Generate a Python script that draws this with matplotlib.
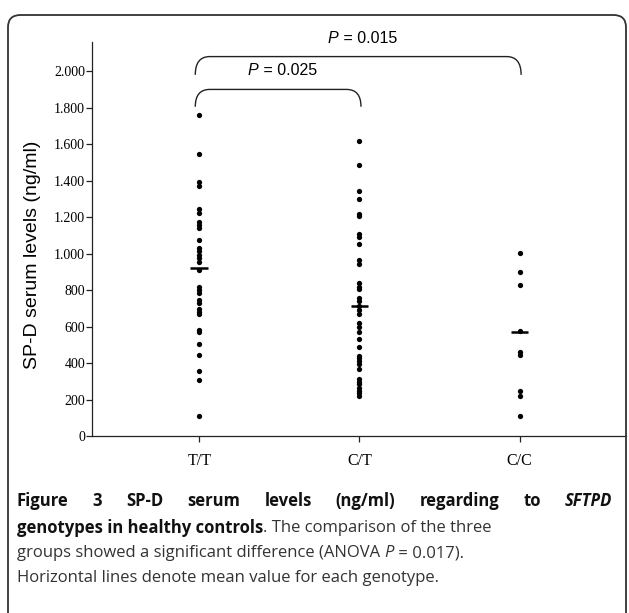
import matplotlib
matplotlib.use("Agg")
import matplotlib.pyplot as plt
from matplotlib.patches import FancyBboxPatch
from matplotlib.path import Path
from matplotlib.patches import PathPatch

# genotype groups and SP-D serum levels (ng/ml)
genotypes = ["T/T", "C/T", "C/C"]
tt = [1760, 1545, 1395, 1370, 1247, 1225, 1172, 1158, 1140, 1075, 1030, 1013,
      993, 975, 955, 908, 817, 800, 783, 743, 730, 697, 680, 668, 583, 568,
      505, 443, 358, 308, 110]
ct = [1620, 1484, 1344, 1299, 1217, 1204, 1105, 1089, 1053, 966, 944, 837,
      818, 805, 755, 738, 715, 689, 670, 620, 598, 572, 533, 490, 440, 425,
      410, 395, 370, 312, 298, 285, 262, 248, 233, 218]
cc = [1005, 898, 830, 578, 460, 442, 248, 220, 112]
means = [920, 712, 570]
yticks = [0, 200, 400, 600, 800, 1000, 1200, 1400, 1600, 1800, 2000]
ytick_labels = ["0", "200", "400", "600", "800", "1.000", "1.200", "1.400",
                "1.600", "1.800", "2.000"]
comparisons = [(0, 2, "0.015"), (0, 1, "0.025")]

W, H = 629, 613
fig = plt.figure(figsize=(W / 100, H / 100), dpi=100)

def fx(px):
    return px / W

def fy(py):
    return 1 - py / H

# frame around figure + caption (open at the bottom)
frame = FancyBboxPatch((fx(8), fy(640)), fx(618), (640 - 15) / H,
                       boxstyle="round,pad=0,rounding_size=0.02",
                       transform=fig.transFigure, fill=False,
                       edgecolor="#333333", linewidth=1.3, clip_on=False)
fig.patches.append(frame)

ax = fig.add_axes([fx(92), fy(436), fx(626 - 92), (436 - 42) / H])
for i, vals in enumerate([tt, ct, cc]):
    ax.plot([i] * len(vals), vals, "o", color="black", markersize=3.8,
            markeredgewidth=0, clip_on=False)
    ax.plot([i - 0.055, i + 0.055], [means[i], means[i]], color="black",
            linewidth=1.8, solid_capstyle="butt")

ax.set_xlim(-0.67, 2.665)
ax.set_ylim(0, 2160)
ax.set_yticks(yticks)
ax.set_yticklabels(ytick_labels, fontfamily="Liberation Serif", fontsize=10)
ax.set_xticks(range(3))
ax.set_xticklabels(genotypes, fontfamily="Liberation Serif", fontsize=11.5)
ax.tick_params(axis="both", direction="out", length=4, width=0.9, color="#222222")
ax.tick_params(axis="x", pad=8)
ax.tick_params(axis="y", pad=1)
ax.spines["top"].set_visible(False)
ax.spines["right"].set_visible(False)
for s in ("left", "bottom"):
    ax.spines[s].set_linewidth(0.9)
    ax.spines[s].set_color("#222222")
ax.set_ylabel("SP-D serum levels (ng/ml)", fontfamily="Liberation Sans",
              fontsize=14)
ax.yaxis.set_label_coords(-0.095, 0.46)

# significance brackets
def bracket(x0, x1, ytop, yend):
    r = 0.09
    verts = [(x0, yend), (x0, ytop), (x0 + r, ytop), (x1 - r, ytop),
             (x1, ytop), (x1, yend)]
    codes = [Path.MOVETO, Path.CURVE3, Path.CURVE3, Path.LINETO,
             Path.CURVE3, Path.CURVE3]
    ax.add_patch(PathPatch(Path(verts, codes), fill=False, color="#222222",
                           linewidth=1.0, clip_on=False))

def ptext(x, y, val):
    ax.text(x, y, "P", fontfamily="Liberation Sans", style="italic",
            fontsize=11.5, ha="right", va="center")
    ax.text(x, y, " = " + val, fontfamily="Liberation Sans", fontsize=11.5,
            ha="left", va="center")

tops = [(2080, 1980, 2180), (1900, 1805, 2005)]
for (a, b, val), (ytop, yend, ytxt) in zip(comparisons, tops):
    bracket(a - 0.025, b + 0.01, ytop, yend)
    ptext((a + b) / 2 - 0.13, ytxt, val)

# caption, drawn as runs of differently styled text
cap_font = "Open Sans"
cap_size = 12
fig.canvas.draw()
renderer = fig.canvas.get_renderer()

def run_line(x, y, parts, right=None):
    texts = []
    for s, kw in parts:
        t = fig.text(0, fy(y), s, fontfamily=cap_font, fontsize=cap_size,
                     va="center", ha="left", color=kw.pop("color", "#333333"),
                     **kw)
        texts.append(t)
    widths = [t.get_window_extent(renderer).width for t in texts]
    gap = 0
    if right is not None and len(texts) > 1:
        gap = (right - x - sum(widths)) / (len(texts) - 1)
    cx = x
    for t, w in zip(texts, widths):
        t.set_x(fx(cx))
        cx += w + gap

def bold(**kw):
    return dict(fontweight="bold", color="#111111", **kw)

line1 = ["Figure", "3", "SP-D", "serum", "levels", "(ng/ml)", "regarding", "to"]
run_line(17, 501, [(w, bold()) for w in line1] +
         [("SFTPD", bold(style="italic"))], right=612)
run_line(17, 528, [("genotypes in healthy controls", bold()),
                   (". The comparison of the three", {})])
run_line(17, 553, [("groups showed a significant difference (ANOVA ", {}),
                   ("P", {"style": "italic"}), (" = 0.017).", {})])
run_line(17, 578, [("Horizontal lines denote mean value for each genotype.", {})])

fig.savefig("out.png", dpi=100)
